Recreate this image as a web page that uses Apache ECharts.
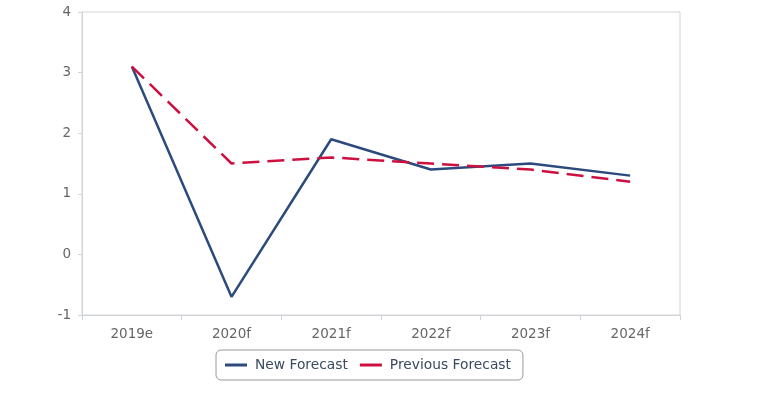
<!DOCTYPE html>
<html><head><meta charset="utf-8">
<script src="https://cdn.jsdelivr.net/npm/echarts@6/dist/echarts.min.js"></script>
<style>html,body{margin:0;padding:0;background:#fff}#c{width:770px;height:395px}</style>
</head><body><div id="c"></div>
<script>
const categories = ['2019e','2020f','2021f','2022f','2023f','2024f'];
const newForecast = [3.1, -0.7, 1.9, 1.4, 1.5, 1.3];
const previousForecast = [3.1, 1.5, 1.6, 1.5, 1.4, 1.2];
const seriesNames = ['New Forecast','Previous Forecast'];
const FONT = 'DejaVu Sans';
const chart = echarts.init(document.getElementById('c'), null, {renderer:'canvas'});
chart.setOption({
  animation:false,
  grid:{left:82,right:90,top:12,bottom:80,show:true,borderColor:'#d0d4d8',borderWidth:1,containLabel:false},
  xAxis:{type:'category',data:categories,boundaryGap:true,
    axisLine:{onZero:false,lineStyle:{color:'#d0d4d8'}},
    axisTick:{show:true,length:5,inside:false,lineStyle:{color:'#d0d4d8'}},
    axisLabel:{color:'#666',fontFamily:FONT,fontSize:13.5,margin:12},
    splitLine:{show:false}},
  yAxis:{type:'value',min:-1,max:4,interval:1,
    axisLine:{show:true,lineStyle:{color:'#d0d4d8'}},
    axisTick:{show:true,length:4,lineStyle:{color:'#d0d4d8'}},
    axisLabel:{color:'#666',fontFamily:FONT,fontSize:13.5,margin:11},
    splitLine:{show:false}},
  legend:{bottom:15,left:216,
    data:seriesNames,
    icon:'rect',itemWidth:22,itemHeight:3,itemGap:12,
    borderColor:'#999',borderWidth:1,borderRadius:5,padding:[8,12,8,9],
    textStyle:{color:'#3a4a60',fontFamily:FONT,fontSize:13.8,padding:[0,0,0,3]}},
  series:[
    {name:seriesNames[0],type:'line',data:newForecast,symbol:'none',
      lineStyle:{color:'#2c4a7c',width:2.5},itemStyle:{color:'#2c4a7c'}},
    {name:seriesNames[1],type:'line',data:previousForecast,symbol:'none',
      lineStyle:{color:'#cc1040',width:2.5,type:[17,8]},itemStyle:{color:'#cc1040'}}
  ]
});
</script></body></html>
